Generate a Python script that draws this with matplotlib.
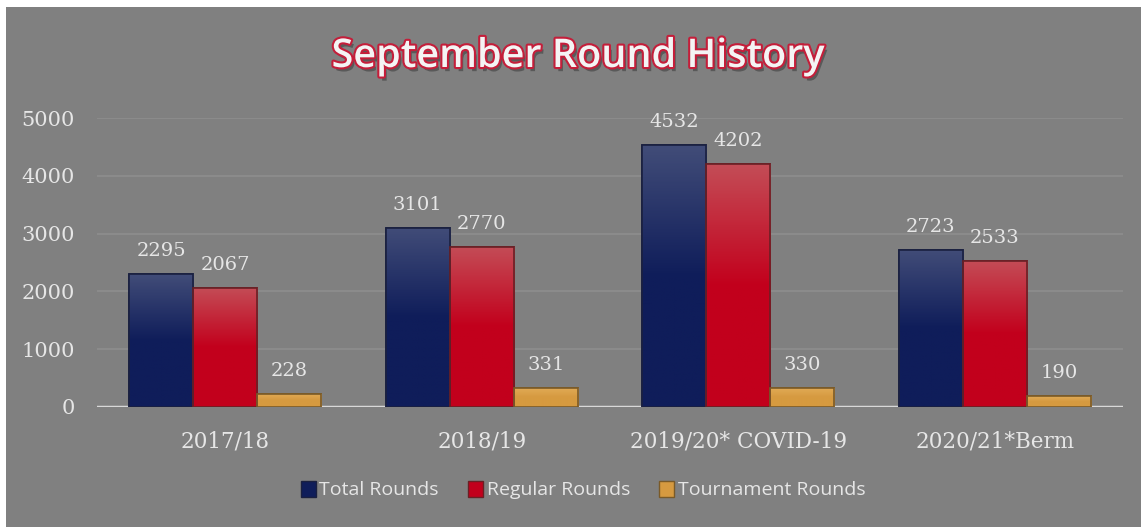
import matplotlib.pyplot as plt
import matplotlib.patheffects as pe
import numpy as np
from matplotlib.colors import LinearSegmentedColormap
from matplotlib.patches import Rectangle, Patch

seasons = ['2017/18', '2018/19', '2019/20* COVID-19', '2020/21*Berm']
total_rounds = [2295, 3101, 4532, 2723]
regular_rounds = [2067, 2770, 4202, 2533]
tournament_rounds = [228, 331, 330, 190]

series = [
    ('Total Rounds', total_rounds, '#414c78', '#0f1d5a', '#1a2040'),
    ('Regular Rounds', regular_rounds, '#c44c56', '#c2001c', '#6a2025'),
    ('Tournament Rounds', tournament_rounds, '#e2ac58', '#d69a40', '#7a5a28'),
]

bg = '#808080'
txt = '#e6e6e6'

fig = plt.figure(figsize=(11.41, 5.27), dpi=100, facecolor='white')
fig.patches.append(Rectangle((6 / 1141, 0), 1, 1 - 7 / 527, transform=fig.transFigure,
                             facecolor=bg, edgecolor='none', zorder=-10))

ax = fig.add_axes([97 / 1141, 1 - 407 / 527, 1026 / 1141, 289 / 527])
ax.set_facecolor(bg)
ax.patch.set_alpha(0)

x = np.arange(len(seasons))
w = 0.25
handles = []
for i, (name, vals, top, bot, edge) in enumerate(series):
    offs = (i - 1) * w
    cmap = LinearSegmentedColormap.from_list(name, [bot, bot, top])
    bars = ax.bar(x + offs, vals, width=w, color=bot, edgecolor=edge, linewidth=1.2, zorder=3)
    for b in bars:
        x0, y0 = b.get_x(), b.get_y()
        bw, bh = b.get_width(), b.get_height()
        grad = np.linspace(0, 1, 100).reshape(-1, 1)
        im = ax.imshow(grad, cmap=cmap, origin='lower', aspect='auto',
                       extent=(x0, x0 + bw, y0, y0 + bh), zorder=3.5)
        im.set_clip_path(b)
        ax.add_patch(Rectangle((x0, y0), bw, bh, facecolor='none', edgecolor=edge,
                               linewidth=1.2, zorder=4))
    for xi, v in zip(x + offs, vals):
        ax.annotate(str(v), (xi, v), xytext=(0, 10), textcoords='offset points',
                    ha='center', va='bottom', fontsize=14, color=txt,
                    family='DejaVu Serif', zorder=5)
    handles.append(Patch(facecolor=bot, edgecolor=edge, label=name))

ax.set_xlim(-0.5, len(seasons) - 0.5)
ax.set_ylim(0, 5000)
ax.set_yticks(range(0, 5001, 1000))
ax.set_xticks(x)
ax.set_xticklabels(seasons, family='DejaVu Serif', fontsize=15.5, color=txt)
ax.tick_params(axis='y', labelsize=15, labelcolor=txt, length=0, pad=16)
ax.tick_params(axis='x', length=0, pad=17)
for lab in ax.get_yticklabels():
    lab.set_family('DejaVu Serif')
ax.grid(axis='y', color='#8e8e8e', linewidth=1.2, zorder=0)
ax.set_axisbelow(True)
for s in ax.spines.values():
    s.set_visible(False)
ax.axhline(0, color='#d8d8d8', linewidth=2.5, zorder=2)

fig.text(0.507, 1 - 57 / 527, 'September Round History', ha='center', va='center',
         fontsize=28.5, fontweight='semibold', family='Open Sans', color='#f4f4f4',
         path_effects=[pe.SimplePatchShadow(offset=(2, -3), shadow_rgbFace='black', alpha=0.3),
                       pe.Stroke(linewidth=3, foreground='#c41e3a'), pe.Normal()])

leg = fig.legend(handles=handles, loc='center', bbox_to_anchor=(0.511, 1 - 490 / 527),
                 ncol=3, frameon=False, handlelength=0.75, handleheight=0.9,
                 columnspacing=1.5, handletextpad=0.2, labelcolor=txt,
                 prop={'family': 'Open Sans', 'size': 14})

fig.savefig('out.png', dpi=100, facecolor='white')
